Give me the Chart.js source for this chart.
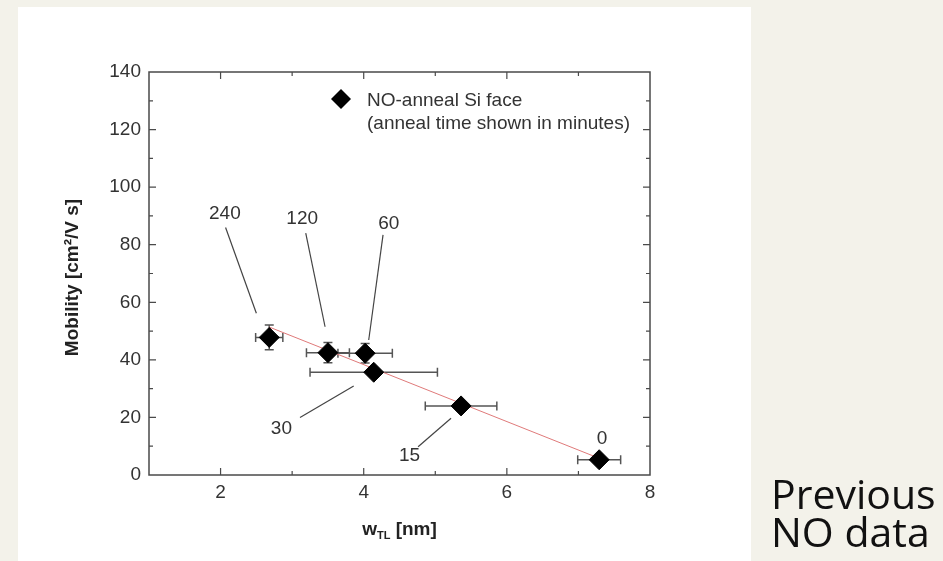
<!DOCTYPE html>
<html>
<head>
<meta charset="utf-8">
<script src="https://cdn.jsdelivr.net/npm/chart.js@4/dist/chart.umd.min.js"></script>
<style>
  html, body { margin: 0; padding: 0; background: #f3f2ea; overflow: hidden; }
  canvas { display: block; }
</style>
</head>
<body>
<canvas id="chart" width="943" height="561" style="width:943px;height:561px"></canvas>
<script>
// Anneal time (minutes) for each sample, transition-layer width and mobility
const annealTime   = ['240', '120', '60', '30', '15', '0'];
const wTL          = [2.68, 3.50, 4.02, 4.14, 5.36, 7.29];
const mobility     = [47.8, 42.5, 42.3, 35.7, 24.0, 5.3];
const wTLErr       = [0.19, 0.30, 0.38, 0.89, 0.50, 0.30];
const mobilityErr  = [4.3, 3.5, 3.4, 0, 0, 0];

// Linear trend through the series
const fitW        = [2.68, 7.29];
const fitMobility = [51.4, 5.8];

// Axis ticks
const xTickValues = [2, 4, 6, 8];
const yTickValues = [0, 20, 40, 60, 80, 100, 120, 140];

// Anneal-time callouts (data units): label anchor and leader line
const calloutW      = [2.06, 3.14, 4.35, 2.85, 4.64, 7.33];
const calloutMob    = [91.3, 89.7, 87.8, 16.6, 7.2, 13.1];
const leaderStart   = [[2.07, 86.0], [3.19, 84.0], [4.27, 83.4], [3.11, 20.0], [4.76, 9.8], null];
const leaderEnd     = [[2.50, 56.2], [3.46, 51.5], [4.07, 46.9], [3.86, 30.9], [5.22, 19.7], null];

const legendLines = ['NO-anneal Si face', '(anneal time shown in minutes)'];
const sideNote = ['Previous', 'NO data'];

const FONT = '"Liberation Sans", Arial, sans-serif';
const INK = '#333';

const decor = {
  id: 'decor',
  beforeDraw(chart) {
    const { ctx, width, height } = chart;
    ctx.save();
    ctx.fillStyle = '#f3f2ea';
    ctx.fillRect(0, 0, width, height);
    ctx.fillStyle = '#ffffff';
    ctx.fillRect(18, 7, 733, 554);
    ctx.restore();
  },
  beforeDatasetsDraw(chart) {
    const { ctx } = chart;
    const xs = chart.scales.x, ys = chart.scales.y;
    ctx.save();
    ctx.strokeStyle = '#555';
    ctx.lineWidth = 1.5;
    const cap = 4.5;
    for (let i = 0; i < wTL.length; i++) {
      const cx = xs.getPixelForValue(wTL[i]);
      const cy = ys.getPixelForValue(mobility[i]);
      if (wTLErr[i]) {
        const x1 = xs.getPixelForValue(wTL[i] - wTLErr[i]);
        const x2 = xs.getPixelForValue(wTL[i] + wTLErr[i]);
        ctx.beginPath();
        ctx.moveTo(x1, cy); ctx.lineTo(x2, cy);
        ctx.moveTo(x1, cy - cap); ctx.lineTo(x1, cy + cap);
        ctx.moveTo(x2, cy - cap); ctx.lineTo(x2, cy + cap);
        ctx.stroke();
      }
      if (mobilityErr[i]) {
        const y1 = ys.getPixelForValue(mobility[i] - mobilityErr[i]);
        const y2 = ys.getPixelForValue(mobility[i] + mobilityErr[i]);
        ctx.beginPath();
        ctx.moveTo(cx, y1); ctx.lineTo(cx, y2);
        ctx.moveTo(cx - cap, y1); ctx.lineTo(cx + cap, y1);
        ctx.moveTo(cx - cap, y2); ctx.lineTo(cx + cap, y2);
        ctx.stroke();
      }
    }
    ctx.restore();
  },
  afterDatasetsDraw(chart) {
    const { ctx, chartArea: a } = chart;
    const xs = chart.scales.x, ys = chart.scales.y;
    ctx.save();

    // frame
    ctx.strokeStyle = '#4a4a4a';
    ctx.lineWidth = 1.5;
    ctx.strokeRect(a.left, a.top, a.right - a.left, a.bottom - a.top);

    // inward ticks on all four sides
    ctx.lineWidth = 1.2;
    ctx.beginPath();
    for (let v = 2; v < 8; v++) {
      const px = xs.getPixelForValue(v);
      const len = v % 2 === 0 ? 7 : 4;
      ctx.moveTo(px, a.bottom); ctx.lineTo(px, a.bottom - len);
      ctx.moveTo(px, a.top); ctx.lineTo(px, a.top + len);
    }
    for (let v = 10; v < 140; v += 10) {
      const py = ys.getPixelForValue(v);
      const len = v % 20 === 0 ? 7 : 4;
      ctx.moveTo(a.left, py); ctx.lineTo(a.left + len, py);
      ctx.moveTo(a.right, py); ctx.lineTo(a.right - len, py);
    }
    ctx.stroke();

    // callouts
    ctx.fillStyle = INK;
    ctx.strokeStyle = '#444';
    ctx.lineWidth = 1.2;
    ctx.font = `19px ${FONT}`;
    ctx.textAlign = 'center';
    ctx.textBaseline = 'alphabetic';
    for (let i = 0; i < annealTime.length; i++) {
      const lx = xs.getPixelForValue(calloutW[i]);
      const ly = ys.getPixelForValue(calloutMob[i]);
      ctx.fillText(annealTime[i], lx, ly + 6.8);
      if (leaderStart[i]) {
        ctx.beginPath();
        ctx.moveTo(xs.getPixelForValue(leaderStart[i][0]), ys.getPixelForValue(leaderStart[i][1]));
        ctx.lineTo(xs.getPixelForValue(leaderEnd[i][0]), ys.getPixelForValue(leaderEnd[i][1]));
        ctx.stroke();
      }
    }

    // legend
    const dx = a.left + 192, dy = a.top + 27;
    ctx.fillStyle = '#000';
    ctx.beginPath();
    ctx.moveTo(dx, dy - 10); ctx.lineTo(dx + 10, dy); ctx.lineTo(dx, dy + 10); ctx.lineTo(dx - 10, dy);
    ctx.closePath();
    ctx.fill();
    ctx.fillStyle = INK;
    ctx.textAlign = 'left';
    ctx.fillText(legendLines[0], a.left + 218, dy + 6.8);
    ctx.fillText(legendLines[1], a.left + 218, dy + 30.3);

    // axis titles
    ctx.font = `bold 19px ${FONT}`;
    ctx.fillStyle = '#222';
    const midX = (a.left + a.right) / 2;
    const tY = 535;
    const w1 = ctx.measureText('w').width;
    ctx.font = `bold 11px ${FONT}`;
    const w2 = ctx.measureText('TL').width;
    ctx.font = `bold 19px ${FONT}`;
    const w3 = ctx.measureText(' [nm]').width;
    let x0 = midX - (w1 + w2 + w3) / 2;
    ctx.fillText('w', x0, tY);
    ctx.font = `bold 11px ${FONT}`;
    ctx.fillText('TL', x0 + w1, tY + 4);
    ctx.font = `bold 19px ${FONT}`;
    ctx.fillText(' [nm]', x0 + w1 + w2, tY);

    ctx.save();
    ctx.translate(77.5, (a.top + a.bottom) / 2 + 4);
    ctx.rotate(-Math.PI / 2);
    ctx.textAlign = 'center';
    ctx.fillText('Mobility [cm\u00B2/V s]', 0, 0);
    ctx.restore();

    ctx.restore();
  },
  afterDraw(chart) {
    const { ctx } = chart;
    ctx.save();
    ctx.fillStyle = '#111';
    ctx.font = '41px "Open Sans", Lato, sans-serif';
    ctx.textAlign = 'left';
    ctx.textBaseline = 'alphabetic';
    ctx.fillText(sideNote[0], 771, 509);
    ctx.fillText(sideNote[1], 771, 547);
    ctx.restore();
  }
};

new Chart(document.getElementById('chart'), {
  type: 'scatter',
  data: {
    datasets: [
      {
        label: 'NO-anneal Si face',
        data: wTL.map((w, i) => ({ x: w, y: mobility[i] })),
        pointStyle: 'rectRot',
        pointRadius: 10,
        pointHoverRadius: 10,
        backgroundColor: '#000',
        borderColor: '#000',
        borderWidth: 1
      },
      {
        label: 'trend',
        data: fitW.map((w, i) => ({ x: w, y: fitMobility[i] })),
        showLine: true,
        borderColor: '#e07a7a',
        borderWidth: 1,
        pointRadius: 0,
        pointHoverRadius: 0
      }
    ]
  },
  options: {
    responsive: false,
    animation: false,
    events: [],
    layout: { padding: { left: 89, top: 72, right: 293, bottom: 56 } },
    plugins: { legend: { display: false }, tooltip: { enabled: false } },
    scales: {
      x: {
        type: 'linear',
        min: 1, max: 8,
        afterBuildTicks: s => { s.ticks = xTickValues.map(v => ({ value: v })); },
        afterFit: s => { s.height = 30; },
        grid: { display: false, drawTicks: false },
        border: { display: false },
        ticks: { padding: 6, color: INK, font: { family: FONT, size: 19 }, maxRotation: 0, autoSkip: false }
      },
      y: {
        type: 'linear',
        min: 0, max: 140,
        afterBuildTicks: s => { s.ticks = yTickValues.map(v => ({ value: v })); },
        afterFit: s => { s.width = 60; },
        grid: { display: false, drawTicks: false },
        border: { display: false },
        ticks: { padding: 8, color: INK, font: { family: FONT, size: 19 }, autoSkip: false }
      }
    }
  },
  plugins: [decor]
});
</script>
</body>
</html>
